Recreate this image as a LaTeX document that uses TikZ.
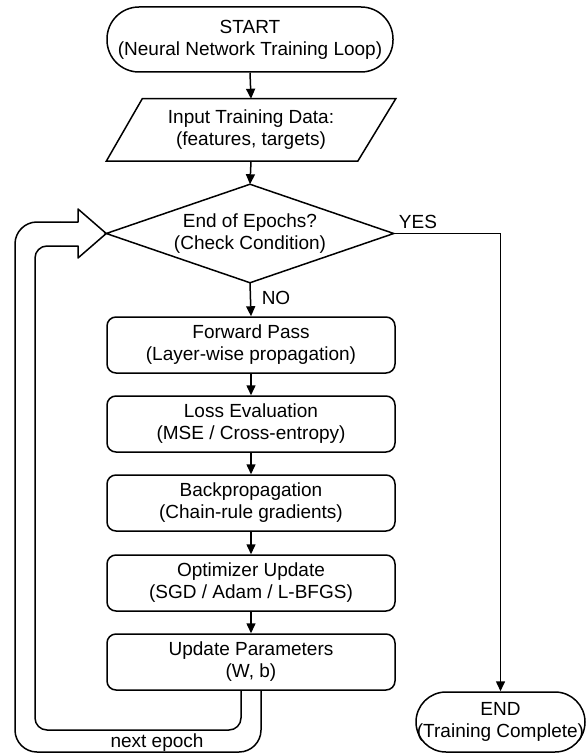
\documentclass[tikz,border=0pt]{standalone}
\usepackage{fontspec}
\setmainfont{Liberation Sans}
\usetikzlibrary{arrows.meta,calc}
\begin{document}
\begin{tikzpicture}[x=1pt,y=-1pt,
  line width=1.5pt,
  every node/.style={font=\fontsize{19}{22}\selectfont, align=center, inner sep=0pt},
  terminal/.style={draw, rounded corners=30pt, minimum height=60pt},
  stepbox/.style={draw, rounded corners=9pt, minimum width=288pt, minimum height=56pt},
  flow/.style={-{Triangle[length=10pt,width=9pt]}},
  loopline/.style={line join=round}
]
\useasboundingbox[fill=white] (0,0) rectangle (586,754);

% start / input / decision
\node[terminal, rounded corners=32pt, minimum width=286pt, minimum height=65pt] (start) at (250,39.5)
  {START\\(Neural Network Training Loop)};
\node[minimum width=288pt, minimum height=61pt] (input) at (251,130)
  {Input Training Data:\\(features, targets)};
\draw ($(input.north west)+(36,0)$) -- (input.north east)
  -- ($(input.south east)+(-38,0)$) -- (input.south west) -- cycle;
\node[minimum width=286pt, minimum height=97pt] (dia) at (250,233.5)
  {End of Epochs?\\(Check Condition)};
\draw (dia.north) -- (dia.east) -- (dia.south) -- (dia.west) -- cycle;

% training steps
\node[stepbox] (fwd)  at (251,345) {Forward Pass\\(Layer-wise propagation)};
\node[stepbox] (loss) at (251,424) {Loss Evaluation\\(MSE / Cross-entropy)};
\node[stepbox] (back) at (251,503) {Backpropagation\\(Chain-rule gradients)};
\node[stepbox] (opt)  at (251,583) {Optimizer Update\\(SGD / Adam / L-BFGS)};
\node[stepbox] (upd)  at (251,662) {Update Parameters\\(W, b)};

% end
\node[terminal, minimum width=169pt] (end) at (500.5,722) {END\\(Training Complete)};

% labels
\node (no)  at (276,298) {NO};
\node (yes) at (418,222) {YES};
\node (nextep) at (157,743) {next epoch};

% main flow
\draw[flow] (start.south) -- (input.north);
\draw[flow] (input.south) -- (dia.north);
\draw[flow] (dia.south) -- (fwd.north);
\draw[flow] (fwd.south) -- (loss.north);
\draw[flow] (loss.south) -- (back.north);
\draw[flow] (back.south) -- (opt.north);
\draw[flow] (opt.south) -- (upd.north);
\draw[flow] (dia.east) -| (end.north);

% hollow return arrow for the next epoch
\coordinate (li) at ($(upd.south)+(-10,0)$);
\coordinate (lo) at ($(upd.south)+(10,0)$);
\draw[loopline, rounded corners=12pt] (li) -- (li |- 0,730) -- (35,730) -- (35,246) -- (60,246);
\draw[loopline] (60,246) -- (78,246) -- (78,258) -- (dia.west) -- (78,209) -- (78,222) -- (60,222);
\draw[loopline, rounded corners=22pt] (60,222) -- (15,222) -- (15,752) -- (lo |- 0,752) -- (lo);
\end{tikzpicture}
\end{document}
